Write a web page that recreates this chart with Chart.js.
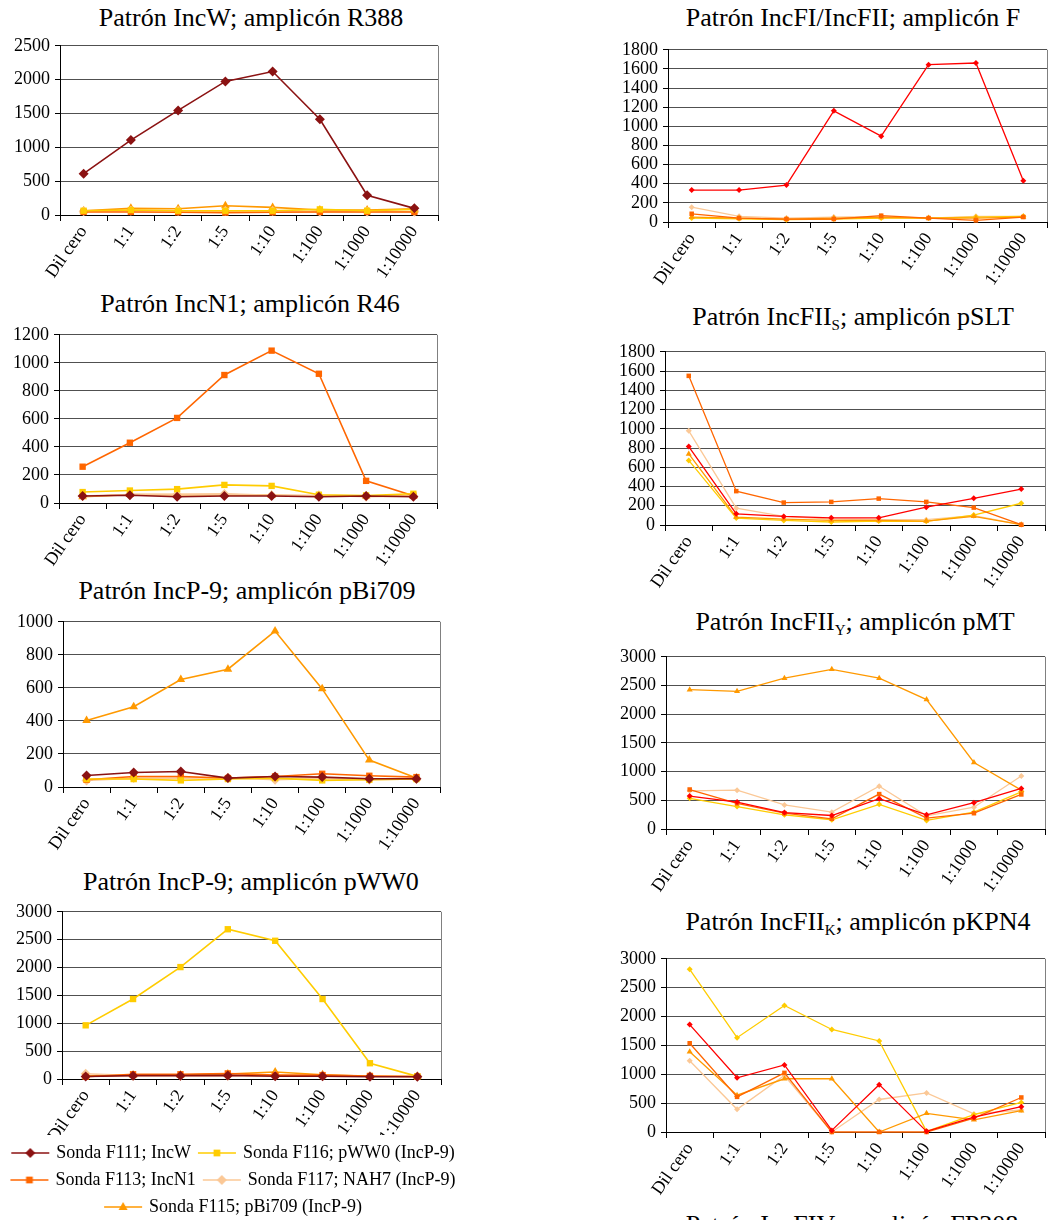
<!DOCTYPE html>
<html><head><meta charset="utf-8">
<script src="https://cdn.jsdelivr.net/npm/chart.js@4/dist/chart.umd.min.js"></script>
<style>
html,body{margin:0;padding:0;background:#fff;overflow:hidden}
#page{position:relative;width:1057px;height:1220px;overflow:hidden;background:#fff}
.t{position:absolute;font-family:'Liberation Serif',serif;font-size:26px;color:#000;white-space:nowrap;transform:translateX(-50%);line-height:26px}
.t sub{font-size:15px;vertical-align:baseline;position:relative;top:5px}
canvas{position:absolute}
</style></head><body><div id="page"></div>
<script>
const categories = ['Dil cero','1:1','1:2','1:5','1:10','1:100','1:1000','1:10000'];

// Left column probes
const leftNames = ['Sonda F111; IncW','Sonda F116; pWW0 (IncP-9)','Sonda F113; IncN1','Sonda F117; NAH7 (IncP-9)','Sonda F115; pBi709 (IncP-9)'];
// Right column probes (legend not visible in the picture)
const rightNames = ['Sonda F (IncFI/IncFII)','Sonda pSLT (IncFIIS)','Sonda pMT (IncFIIY)','Sonda pKPN4 (IncFIIK)','Sonda IncFIV'];

// Patrón IncW; amplicón R388
const r388_F111 = [610, 1107, 1545, 1974, 2120, 1414, 292, 98];
const r388_F116 = [63, 73, 63, 63, 63, 83, 63, 83];
const r388_F113 = [45, 45, 40, 35, 40, 45, 45, 45];
const r388_F117 = [54, 63, 59, 59, 59, 49, 49, 49];
const r388_F115 = [63, 98, 93, 137, 112, 73, 73, 93];

// Patrón IncN1; amplicón R46
const r46_F111 = [50, 55, 45, 50, 50, 45, 50, 45];
const r46_F116 = [78, 89, 99, 129, 122, 59, 54, 66];
const r46_F113 = [259, 430, 607, 913, 1087, 922, 158, 52];
const r46_F117 = [50, 60, 60, 65, 55, 55, 45, 50];
const r46_F115 = [45, 60, 60, 60, 55, 50, 50, 50];

// Patrón IncP-9; amplicón pBi709
const pBi709_F111 = [70, 88, 94, 54, 64, 60, 50, 50];
const pBi709_F116 = [48, 48, 40, 48, 54, 40, 44, 48];
const pBi709_F113 = [44, 64, 64, 54, 64, 80, 68, 60];
const pBi709_F117 = [40, 54, 54, 56, 44, 52, 44, 48];
const pBi709_F115 = [402, 486, 651, 713, 944, 594, 163, 54];

// Patrón IncP-9; amplicón pWW0
const pWW0_F111 = [45, 60, 60, 65, 50, 50, 40, 40];
const pWW0_F116 = [963, 1435, 2008, 2687, 2480, 1435, 283, 47];
const pWW0_F113 = [40, 85, 85, 100, 70, 70, 55, 45];
const pWW0_F117 = [95, 60, 60, 60, 60, 55, 50, 50];
const pWW0_F115 = [55, 70, 70, 90, 125, 75, 50, 45];

// Patrón IncFI/IncFII; amplicón F
const F_red = [334, 334, 386, 1162, 897, 1645, 1662, 431];
const F_orangeRed = [86, 41, 31, 31, 66, 41, 17, 52];
const F_orange = [52, 41, 31, 41, 48, 41, 41, 52];
const F_yellow = [41, 34, 24, 31, 41, 41, 52, 59];
const F_peach = [155, 59, 41, 52, 59, 41, 59, 59];

// Patrón IncFII_S; amplicón pSLT
const pSLT_red = [815, 116, 89, 75, 75, 185, 277, 373];
const pSLT_orangeRed = [1550, 352, 233, 240, 274, 240, 181, 3];
const pSLT_orange = [739, 82, 62, 48, 48, 41, 90, 3];
const pSLT_yellow = [671, 72, 48, 31, 41, 38, 103, 226];
const pSLT_peach = [979, 175, 89, 62, 55, 55, 96, 3];

// Patrón IncFII_Y; amplicón pMT
const pMT_red = [574, 470, 287, 235, 528, 247, 459, 706];
const pMT_orangeRed = [688, 447, 275, 178, 608, 189, 275, 602];
const pMT_orange = [2427, 2398, 2628, 2782, 2628, 2255, 1159, 677];
const pMT_yellow = [534, 390, 247, 161, 430, 149, 293, 648];
const pMT_peach = [665, 677, 419, 293, 746, 229, 379, 924];

// Patrón IncFII_K; amplicón pKPN4
const pKPN4_red = [1861, 939, 1161, 28, 820, 11, 256, 438];
const pKPN4_orangeRed = [1537, 609, 1024, 0, 0, 0, 239, 598];
const pKPN4_orange = [1389, 637, 922, 922, 0, 324, 211, 370];
const pKPN4_yellow = [2818, 1634, 2191, 1776, 1577, 11, 300, 512];
const pKPN4_peach = [1235, 393, 979, 0, 563, 677, 313, 381];

// y axis ranges [max, step]
const r388_y = [2500, 500], r46_y = [1200, 200], pBi709_y = [1000, 200], pWW0_y = [3000, 500];
const F_y = [1800, 200], pSLT_y = [1800, 200], pMT_y = [3000, 500], pKPN4_y = [3000, 500];

// ---------- styling ----------
const FONT = "'Liberation Serif', 'Times New Roman', serif";
Chart.defaults.font.family = FONT;
Chart.defaults.color = '#000';

const leftStyles = [
  {c:'#8B1212', s:'rectRot', r:5},
  {c:'#FFCC00', s:'rect', r:4.5},
  {c:'#FF6600', s:'rect', r:4.5},
  {c:'#FBC896', s:'rectRot', r:5},
  {c:'#FF9900', s:'triangle', r:5}
];
const rightStyles = [
  {c:'#FF0000', s:'rectRot', r:3},
  {c:'#FF6600', s:'rect', r:3.2},
  {c:'#FF9900', s:'triangle', r:3.5},
  {c:'#FFCC00', s:'rectRot', r:3},
  {c:'#FBC896', s:'rectRot', r:3}
];

function legendIcon(st) {
  const c = document.createElement('canvas');
  c.width = 40; c.height = 14;
  const g = c.getContext('2d');
  g.strokeStyle = st.c; g.lineWidth = 1.5;
  g.beginPath(); g.moveTo(1, 7); g.lineTo(39, 7); g.stroke();
  g.fillStyle = st.c;
  const x = 20, y = 7, r = st.r;
  g.beginPath();
  if (st.s === 'rectRot') { g.moveTo(x, y - r); g.lineTo(x + r, y); g.lineTo(x, y + r); g.lineTo(x - r, y); }
  else if (st.s === 'rect') { const h = r * 0.75; g.rect(x - h, y - h, 2 * h, 2 * h); }
  else { g.moveTo(x, y - r); g.lineTo(x + r * 0.9, y + r * 0.6); g.lineTo(x - r * 0.9, y + r * 0.6); }
  g.closePath(); g.fill();
  return c;
}

const framePlugin = {
  id: 'frame',
  beforeDatasetsDraw(chart) {
    const a = chart.chartArea, ctx = chart.ctx;
    ctx.save();
    ctx.strokeStyle = '#808080'; ctx.lineWidth = 1;
    ctx.beginPath(); ctx.moveTo(Math.round(a.right) + 0.5, a.top); ctx.lineTo(Math.round(a.right) + 0.5, a.bottom); ctx.stroke();
    ctx.restore();
  }
};

const panels = [
  {title:'Patrón IncW; amplicón R388', tx:251, ty:5, area:[60,44,438,215], y:r388_y, side:'L',
   data:[r388_F111, r388_F116, r388_F113, r388_F117, r388_F115]},
  {title:'Patrón IncN1; amplicón R46', tx:250, ty:291, area:[59,333,437,503], y:r46_y, side:'L',
   data:[r46_F111, r46_F116, r46_F113, r46_F117, r46_F115]},
  {title:'Patrón IncP-9; amplicón pBi709', tx:247, ty:578, area:[63,620,440,787], y:pBi709_y, side:'L',
   data:[pBi709_F111, pBi709_F116, pBi709_F113, pBi709_F117, pBi709_F115]},
  {title:'Patrón IncP-9; amplicón pWW0', tx:251, ty:869, area:[62,910,441,1079], y:pWW0_y, side:'L', legend:true,
   data:[pWW0_F111, pWW0_F116, pWW0_F113, pWW0_F117, pWW0_F115]},
  {title:'Patrón IncFI/IncFII; amplicón F', tx:853, ty:5, area:[668,48,1047,222], y:F_y, side:'R',
   data:[F_red, F_orangeRed, F_orange, F_yellow, F_peach]},
  {title:'Patrón IncFII<sub>S</sub>; amplicón pSLT', tx:853, ty:304, area:[665,350,1045,525], y:pSLT_y, side:'R',
   data:[pSLT_red, pSLT_orangeRed, pSLT_orange, pSLT_yellow, pSLT_peach]},
  {title:'Patrón IncFII<sub>Y</sub>; amplicón pMT', tx:855, ty:609, area:[666,655,1045,829], y:pMT_y, side:'R',
   data:[pMT_red, pMT_orangeRed, pMT_orange, pMT_yellow, pMT_peach]},
  {title:'Patrón IncFII<sub>K</sub>; amplicón pKPN4', tx:858, ty:909, area:[666,957,1045,1132], y:pKPN4_y, side:'R',
   data:[pKPN4_red, pKPN4_orangeRed, pKPN4_orange, pKPN4_yellow, pKPN4_peach]}
];

const page = document.getElementById('page');

function addTitle(html, cx, top) {
  const d = document.createElement('div');
  d.className = 't'; d.innerHTML = html;
  d.style.left = cx + 'px'; d.style.top = top + 'px';
  page.appendChild(d);
}

panels.forEach(p => {
  addTitle(p.title, p.tx, p.ty);
  const [L, T, R, B] = p.area;
  const PT = 14;
  const YW = p.legend ? 78 : 60;
  const XH = p.legend ? 56 : 72;
  const cLeft = L - YW;
  const cTop = T - PT;
  let cWidth, cHeight, RW;
  if (p.legend) { cWidth = 500; cHeight = 1226 - cTop; }
  else { cWidth = (R - L) + YW + (p.side === 'R' ? 8 : 14); cHeight = (B - T) + PT + XH; }
  RW = cLeft + cWidth - R;
  const cv = document.createElement('canvas');
  cv.width = cWidth; cv.height = cHeight;
  cv.style.left = cLeft + 'px'; cv.style.top = cTop + 'px';
  cv.style.width = cWidth + 'px'; cv.style.height = cHeight + 'px';
  page.appendChild(cv);

  const styles = p.side === 'L' ? leftStyles : rightStyles;
  const names = p.side === 'L' ? leftNames : rightNames;
  const lw = p.side === 'L' ? 1.6 : 1.3;
  const datasets = p.data.map((arr, i) => ({
    label: names[i], data: arr,
    borderColor: styles[i].c, backgroundColor: styles[i].c,
    pointStyle: styles[i].s, pointRadius: styles[i].r, pointBorderWidth: 0,
    pointBackgroundColor: styles[i].c, borderWidth: lw, tension: 0, clip: false
  }));

  new Chart(cv, {
    type: 'line',
    data: {labels: categories, datasets},
    plugins: [framePlugin],
    options: {
      responsive: false, animation: false, devicePixelRatio: 1,
      layout: {padding: {top: PT, left: 0, right: 0, bottom: 0}},
      plugins: {
        tooltip: {enabled: false},
        title: {display: false},
        legend: p.legend ? {
          display: true, position: 'bottom', align: 'center',
          labels: {
            usePointStyle: true, pointStyleWidth: 34, padding: 9, color: '#000',
            font: {family: FONT, size: 18},
            generateLabels: ch => ch.data.datasets.map((ds, i) => ({
              text: ds.label, pointStyle: legendIcon(styles[i]), fillStyle: ds.borderColor,
              strokeStyle: ds.borderColor, lineWidth: 0, hidden: false, datasetIndex: i, fontColor: '#000'
            }))
          }
        } : {display: false}
      },
      scales: {
        x: {
          offset: true,
          ticks: {autoSkip: false, maxRotation: 55, minRotation: 55, padding: 1, color: '#000', font: {family: FONT, size: 18}},
          grid: {display: true, drawOnChartArea: false, drawTicks: true, tickLength: 6, tickColor: '#000', offset: true},
          border: {display: true, color: '#000', width: 1},
          afterFit: s => { s.height = XH; }
        },
        y: {
          min: 0, max: p.y[0],
          ticks: {stepSize: p.y[1], autoSkip: false, padding: 5, color: '#000', font: {family: FONT, size: 18},
                  callback: v => String(v)},
          grid: {color: '#505050', lineWidth: 1, drawTicks: true, tickLength: 5, tickColor: '#000'},
          border: {display: true, color: '#000', width: 1},
          afterFit: s => { s.width = YW; }
        },
        yR: {
          position: 'right', display: true, min: 0, max: 1,
          ticks: {display: false}, grid: {display: false, drawTicks: false}, border: {display: false},
          afterFit: s => { s.width = RW; }
        }
      }
    }
  });
});

// Next panel title, cut at the bottom edge of the picture
addTitle('Patrón IncFIV; amplicón FP308', 852, 1212);
</script>
</body></html>
